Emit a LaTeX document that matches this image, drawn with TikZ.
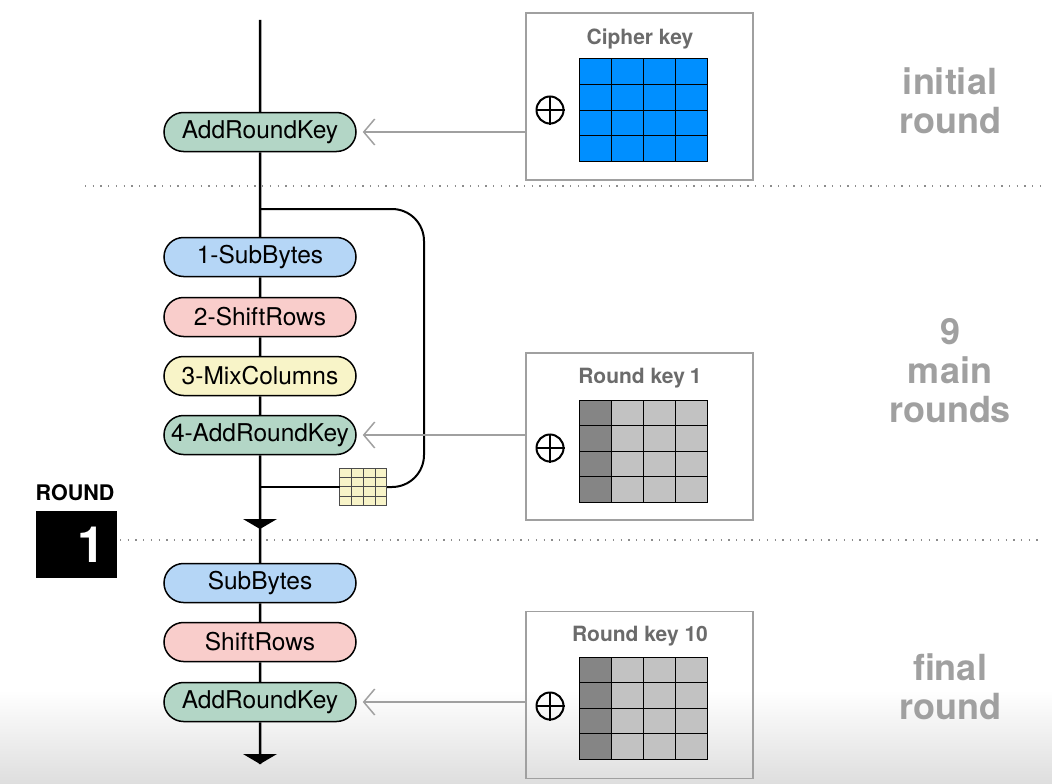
\documentclass[tikz,border=0pt]{standalone}
\usepackage{fontspec}
\setmainfont{TeX Gyre Heros}
\usetikzlibrary{shapes.misc,arrows.meta}
\definecolor{subcol}{HTML}{B5D6F6}
\definecolor{shiftcol}{HTML}{F9CDCB}
\definecolor{mixcol}{HTML}{F8F4C8}
\definecolor{addcol}{HTML}{B3D6C6}
\definecolor{keyblue}{HTML}{008FFF}
\definecolor{keydark}{HTML}{858585}
\definecolor{keylight}{HTML}{C2C2C2}
\definecolor{labelgray}{HTML}{A0A0A0}
\definecolor{titlegray}{HTML}{6B6B6B}
\begin{document}
\begin{tikzpicture}[x=1pt,y=-1pt,
  stage/.style={rounded rectangle,draw,line width=1.5pt,minimum width=192pt,minimum height=39pt,inner sep=0pt,font=\fontsize{24.5}{27}\selectfont},
  flow/.style={line width=2.5pt},
  keybox/.style={draw=labelgray,line width=1.5pt,minimum width=227pt,minimum height=167pt,inner sep=0pt},
  keytitle/.style={font=\bfseries\fontsize{21}{24}\selectfont,text=titlegray},
  keyarrow/.style={draw=labelgray,line width=1.5pt,-{Straight Barb[length=11pt,width=26pt,line width=1.5pt]},shorten >=6pt},
  xorsym/.style={circle,draw,line width=2pt,minimum size=27pt,inner sep=0pt},
  phase/.style={font=\bfseries\fontsize{36}{39}\selectfont,text=labelgray,align=center},
  sep/.style={draw=black!45,line width=1.3pt,dash pattern=on 1.3pt off 6.4pt}]
\useasboundingbox (0,0) rectangle (1052,784);
\shade[top color=white,bottom color=black!13] (0,690) rectangle (1052,784);
% separators
\draw[sep] (85,186) -- (1040,186);
\draw[sep] (120,540) -- (1040,540);
% key boxes
\node[keybox] (key0) at (639.5,96.5) {};
\node[keybox] (key1) at (639.5,436.5) {};
\node[keybox] (key2) at (639.5,695) {};
\node[keytitle] (t0) at (640,39) {Cipher key};
\node[keytitle] (t1) at (640,378) {Round key\hspace{5pt}1};
\node[keytitle] (t2) at (640,636) {Round key 10};
\foreach \gy/\ca/\cb in {59/keyblue/keyblue,400/keydark/keylight,657/keydark/keylight}{
  \fill[\cb] (579,\gy) rectangle ++(128,102);
  \fill[\ca] (579,\gy) rectangle ++(32,102);
  \foreach \c in {0,...,3} \foreach \r in {0,...,3}
    \draw[line width=1pt] (579+\c*32,\gy+\r*25.5) rectangle ++(32,25.5);
}
\foreach \n/\xy in {x0/110,x1/448,x2/706}{
  \node[xorsym] (\n) at (550,\xy) {};
  \draw[line width=2pt] (\n.north) -- (\n.south) (\n.west) -- (\n.east);
}
% stages
\coordinate (top) at (260,20);
\node[stage,fill=addcol] (ark0) at (260,132) {AddRoundKey};
\node[stage,fill=subcol] (sb1) at (260,257) {1-SubBytes};
\node[stage,fill=shiftcol] (sr1) at (260,317) {2-ShiftRows};
\node[stage,fill=mixcol] (mc1) at (260,376) {3-MixColumns};
\node[stage,fill=addcol] (ark1) at (260,435) {4-AddRoundKey};
\node[stage,fill=subcol] (sb2) at (260,583) {SubBytes};
\node[stage,fill=shiftcol] (sr2) at (260,642) {ShiftRows};
\node[stage,fill=addcol] (ark2) at (260,702) {AddRoundKey};
\coordinate (bot) at (260,764);
\coordinate (arr1) at (260,529);
\draw[flow] (top) -- (ark0) -- (sb1) -- (sr1) -- (mc1) -- (ark1) -- (sb2) -- (sr2) -- (ark2) -- (bot);
\fill (arr1) -- ++(-17,-10) -- ++(34,0) -- cycle;
\fill (bot) -- ++(-17,-10) -- ++(34,0) -- cycle;
% loop back
\node[minimum width=47pt,minimum height=37pt,inner sep=0pt,fill=mixcol] (mini) at (363.5,487) {};
\foreach \c in {0,...,3} \foreach \r in {0,...,3}
  \draw[black!70,line width=0.9pt] ([xshift=\c*11.75pt,yshift=-\r*9.25pt]mini.north west) rectangle ++(11.75,9.25);
\coordinate (jtop) at (260,209);
\coordinate (jbot) at (260,487);
\draw[line width=2pt,rounded corners=32pt] (jtop) -- (424,209) -- (424,487) -- (mini.east);
\draw[line width=2pt] (jbot) -- (mini.west);
% key arrows
\draw[keyarrow] (key0.west |- ark0) -- (ark0.east);
\draw[keyarrow] (key1.west |- ark1) -- (ark1.east);
\draw[keyarrow] (key2.west |- ark2) -- (ark2.east);
% round counter
\node[font=\bfseries\fontsize{21.5}{24}\selectfont] (rlabel) at (75,493) {ROUND};
\node[fill=black,minimum width=81pt,minimum height=67pt,inner sep=0pt] (rbox) at (76.5,544.5) {};
\node[text=white,font=\bfseries\fontsize{50}{50}\selectfont] (rnum) at ([xshift=15pt]rbox.center) {1};
% phases
\node[phase] (ph0) at (950,101) {initial\\round};
\node[phase] (ph1) at (950,371) {9\\main\\rounds};
\node[phase] (ph2) at (950,687) {final\\round};
\end{tikzpicture}
\end{document}
